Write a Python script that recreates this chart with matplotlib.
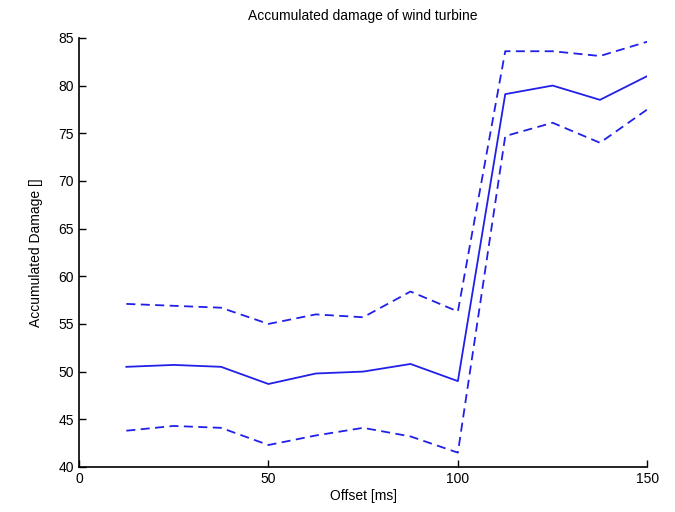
import matplotlib

matplotlib.use("Agg")
import matplotlib.pyplot as plt

offset = [12.5, 25, 37.5, 50, 62.5, 75, 87.5, 100, 112.5, 125, 137.5, 150]
damage_mean = [50.5, 50.7, 50.5, 48.7, 49.8, 50.0, 50.8, 49.0, 79.1, 80.0, 78.5, 81.0]
damage_upper = [57.1, 56.9, 56.7, 55.0, 56.0, 55.7, 58.4, 56.3, 83.6, 83.6, 83.1, 84.6]
damage_lower = [43.8, 44.3, 44.1, 42.3, 43.3, 44.1, 43.2, 41.5, 74.7, 76.1, 74.0, 77.5]

plt.rcParams["font.family"] = ["Liberation Sans", "DejaVu Sans"]
plt.rcParams["font.size"] = 10

fig = plt.figure(figsize=(6.75, 5.12), dpi=100)
ax = fig.add_axes([0.117, 0.088, 0.842, 0.838])

color = "#2020e8"
ax.plot(offset, damage_mean, color=color, linewidth=1.3)
ax.plot(offset, damage_upper, color=color, linewidth=1.3, linestyle=(0, (5, 3)))
ax.plot(offset, damage_lower, color=color, linewidth=1.3, linestyle=(0, (5, 3)))

ax.set_xlim(0, 150)
ax.set_ylim(40, 85)
ax.set_xticks([0, 50, 100, 150])
ax.set_yticks(range(40, 86, 5))
ax.tick_params(direction="in", length=5, width=1, colors="black", labelsize=10)
ax.spines["top"].set_visible(False)
ax.spines["right"].set_visible(False)
ax.spines["left"].set_linewidth(1.2)
ax.spines["bottom"].set_linewidth(1.2)

ax.set_xlabel("Offset [ms]", labelpad=2)
ax.set_ylabel("Accumulated Damage []", labelpad=11)
ax.set_title("Accumulated damage of wind turbine", fontsize=10, pad=13)

fig.savefig("out.png", dpi=100)
